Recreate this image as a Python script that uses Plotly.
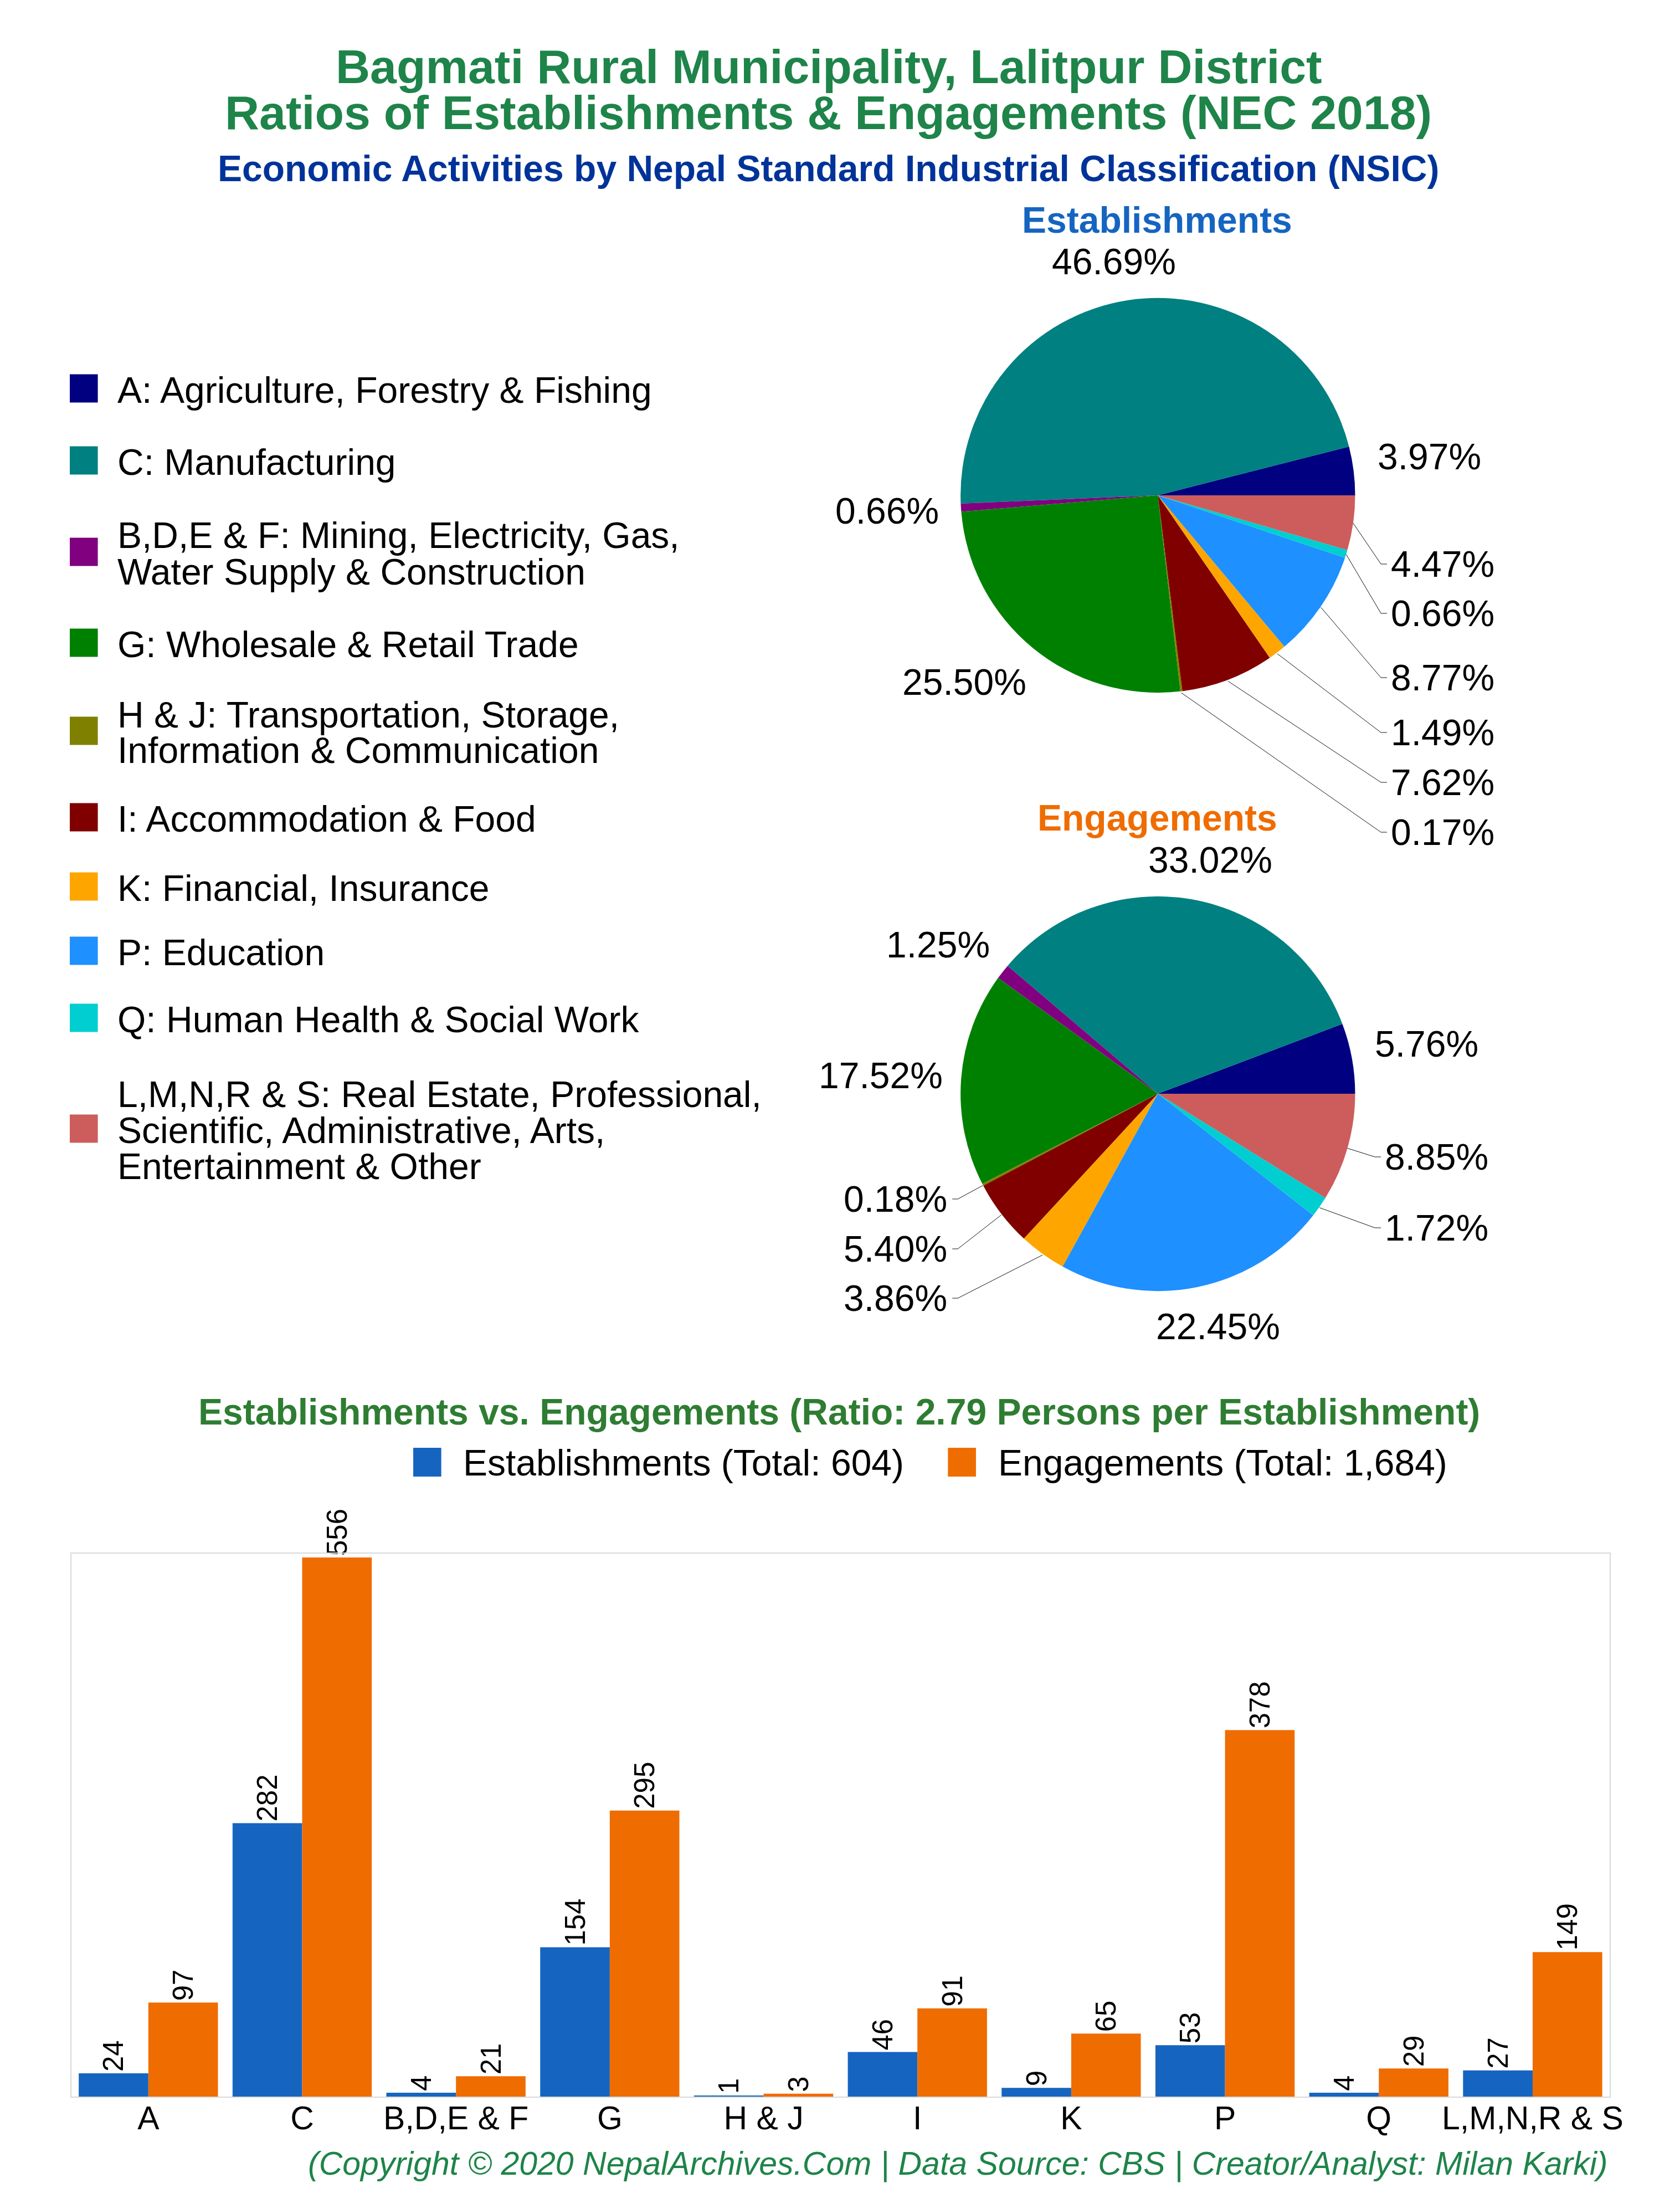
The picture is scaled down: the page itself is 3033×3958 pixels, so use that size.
import math
import plotly.graph_objects as go

# ---------------- data ----------------
categories = ["A", "C", "B,D,E & F", "G", "H & J", "I", "K", "P", "Q", "L,M,N,R & S"]
legend_labels = [
    "A: Agriculture, Forestry & Fishing",
    "C: Manufacturing",
    "B,D,E & F: Mining, Electricity, Gas,\nWater Supply & Construction",
    "G: Wholesale & Retail Trade",
    "H & J: Transportation, Storage,\nInformation & Communication",
    "I: Accommodation & Food",
    "K: Financial, Insurance",
    "P: Education",
    "Q: Human Health & Social Work",
    "L,M,N,R & S: Real Estate, Professional,\nScientific, Administrative, Arts,\nEntertainment & Other",
]
establishments = [24, 282, 4, 154, 1, 46, 9, 53, 4, 27]
engagements = [97, 556, 21, 295, 3, 91, 65, 378, 29, 149]
slice_colors = ["#000080", "#008080", "#800080", "#008000", "#808000",
                "#800000", "#FFA500", "#1E90FF", "#00CED1", "#CD5C5C"]

# ---------------- geometry / style ----------------
W, H = 3033, 3958
FONT = "Liberation Sans, Arial, sans-serif"
BLUE = "#1565C0"
ORANGE = "#EF6C00"


def px(x):
    return x / W


def py(y):
    return 1 - y / H


R = 359
EST_C = (2107, 894)
ENG_C = (2107, 1974)

# label placement per slice: (x, y, xanchor, leader)
est_label_pos = [
    (2601, 824, "center", False),
    (2027, 472, "center", False),
    (1614, 922, "center", False),
    (1755, 1231, "center", False),
    (2529, 1502, "left", True),
    (2529, 1412, "left", True),
    (2529, 1322, "left", True),
    (2529, 1223, "left", True),
    (2529, 1107, "left", True),
    (2529, 1018, "left", True),
]
eng_label_pos = [
    (2596, 1884, "center", False),
    (2202, 1552, "center", False),
    (1707, 1705, "center", False),
    (1603, 1941, "center", False),
    (1726, 2164, "right", True),
    (1726, 2254, "right", True),
    (1726, 2343, "right", True),
    (2217, 2394, "center", False),
    (2518, 2216, "left", True),
    (2518, 2088, "left", True),
]

legend_y = [701, 831, 996, 1160, 1319, 1475, 1600, 1716, 1837, 2037]

fig = go.Figure()
annotations = []
shapes = []


def add_pie(values, center, label_pos, name):
    cx, cy = center
    total = sum(values)
    # plotly places the first counterclockwise slice clockwise of `rotation`,
    # so shift by its angle to make it start at 3 o'clock and grow upward
    rot = 90 - 360 * values[0] / total
    fig.add_trace(go.Pie(
        labels=categories, values=values, name=name,
        marker=dict(colors=slice_colors, line=dict(width=0)),
        sort=False, direction="counterclockwise", rotation=rot,
        textinfo="none", textposition="none", showlegend=False,
        hoverinfo="label+percent",
        domain=dict(x=[px(cx - R), px(cx + R)], y=[py(cy + R), py(cy - R)]),
    ))
    cum = 0
    for v, (lx, ly, anchor, leader) in zip(values, label_pos):
        mid = (cum + v / 2) / total
        cum += v
        ang = math.radians(mid * 360)
        ex, ey = cx + R * math.cos(ang), cy - R * math.sin(ang)
        annotations.append(dict(
            x=px(lx), y=py(ly), xref="paper", yref="paper",
            text=f"{v / total * 100:.2f}%", showarrow=False,
            xanchor=anchor, yanchor="middle",
            font=dict(family=FONT, size=66, color="black"),
        ))
        if leader:
            if anchor == "left":
                elbow, end = lx - 16, lx - 5
            else:
                elbow, end = lx + 17, lx + 7
            path = (f"M {px(ex)},{py(ey)} L {px(elbow)},{py(ly)} "
                    f"L {px(end)},{py(ly)}")
            shapes.append(dict(type="path", xref="paper", yref="paper",
                               path=path, line=dict(color="#111111", width=1)))


add_pie(establishments, EST_C, est_label_pos, "Establishments")
add_pie(engagements, ENG_C, eng_label_pos, "Engagements")

# ---------------- bar chart ----------------
fig.add_trace(go.Bar(
    x=categories, y=establishments, name=f"Establishments (Total: {sum(establishments):,})",
    marker=dict(color=BLUE, line=dict(width=0)),
    text=establishments, texttemplate="%{y}", textposition="outside",
    textangle=-90, textfont=dict(family=FONT, size=51, color="black"),
    cliponaxis=False, constraintext="none", showlegend=False,
))
fig.add_trace(go.Bar(
    x=categories, y=engagements, name=f"Engagements (Total: {sum(engagements):,})",
    marker=dict(color=ORANGE, line=dict(width=0)),
    text=engagements, texttemplate="%{y}", textposition="outside",
    textangle=-90, textfont=dict(family=FONT, size=51, color="black"),
    cliponaxis=False, constraintext="none", showlegend=False,
))

# ---------------- legend for categories (left) ----------------
for lab, col, cyl in zip(legend_labels, slice_colors, legend_y):
    shapes.append(dict(type="rect", xref="paper", yref="paper",
                       x0=px(127), x1=px(178), y0=py(cyl + 25.5), y1=py(cyl - 25.5),
                       fillcolor=col, line=dict(width=0)))
    lines = lab.split("\n")
    n = len(lines)
    for i, t in enumerate(lines):
        yy = cyl + (i - (n - 1) / 2) * 65 + 3
        annotations.append(dict(
            x=px(212), y=py(yy), xref="paper", yref="paper", text=t,
            showarrow=False, xanchor="left", yanchor="middle",
            font=dict(family=FONT, size=66, color="black"),
        ))

# ---------------- legend for bars ----------------
bar_legend = [
    (BLUE, f"Establishments (Total: {sum(establishments):,})", 752),
    (ORANGE, f"Engagements (Total: {sum(engagements):,})", 1725),
]
for col, t, x0 in bar_legend:
    shapes.append(dict(type="rect", xref="paper", yref="paper",
                       x0=px(x0), x1=px(x0 + 51), y0=py(2665), y1=py(2613),
                       fillcolor=col, line=dict(width=0)))
    annotations.append(dict(
        x=px(x0 + 89), y=py(2640), xref="paper", yref="paper", text=t,
        showarrow=False, xanchor="left", yanchor="middle",
        font=dict(family=FONT, size=66, color="black"),
    ))

# ---------------- titles ----------------
ratio = sum(engagements) / sum(establishments)
titles = [
    ("<b>Bagmati Rural Municipality, Lalitpur District</b>", 1508, 120, 86, "#1E8449"),
    ("<b>Ratios of Establishments & Engagements (NEC 2018)</b>", 1507, 203, 86, "#1E8449"),
    ("<b>Economic Activities by Nepal Standard Industrial Classification (NSIC)</b>", 1507, 304, 66, "#003399"),
    ("<b>Establishments</b>", 2106, 397, 66, BLUE),
    ("<b>Engagements</b>", 2106, 1476, 66, ORANGE),
    (f"<b>Establishments vs. Engagements (Ratio: {ratio:.2f} Persons per Establishment)</b>", 1527, 2548, 66, "#2E7D32"),
]
for t, x, y, s, c in titles:
    annotations.append(dict(x=px(x), y=py(y), xref="paper", yref="paper", text=t,
                            showarrow=False, xanchor="center", yanchor="middle",
                            font=dict(family=FONT, size=s, color=c)))
annotations.append(dict(
    x=px(2928), y=py(3905), xref="paper", yref="paper",
    text="<i>(Copyright © 2020 NepalArchives.Com | Data Source: CBS | Creator/Analyst: Milan Karki)</i>",
    showarrow=False, xanchor="right", yanchor="middle",
    font=dict(family=FONT, size=59, color="#1E8449"),
))

fig.update_layout(
    width=W, height=H,
    margin=dict(l=0, r=0, t=0, b=0),
    paper_bgcolor="white", plot_bgcolor="white",
    barmode="group", bargap=0.095, bargroupgap=0,
    font=dict(family=FONT, color="black"),
    xaxis=dict(domain=[px(130), px(2929)], showline=True, mirror=True,
               linecolor="#d9d9d9", linewidth=2, showgrid=False, ticks="",
               tickfont=dict(family=FONT, size=59, color="black"),
               ticklabelstandoff=-14, fixedrange=True),
    yaxis=dict(domain=[py(3784), py(2804)], range=[0, 560], showline=True,
               mirror=True, linecolor="#d9d9d9", linewidth=2, showgrid=False,
               zeroline=False, showticklabels=False, ticks="", fixedrange=True),
    annotations=annotations,
    shapes=shapes,
    showlegend=False,
)

fig.write_html("out.html", config={"displayModeBar": False},
               post_script="document.body.style.margin='0';document.body.style.overflow='hidden';")
